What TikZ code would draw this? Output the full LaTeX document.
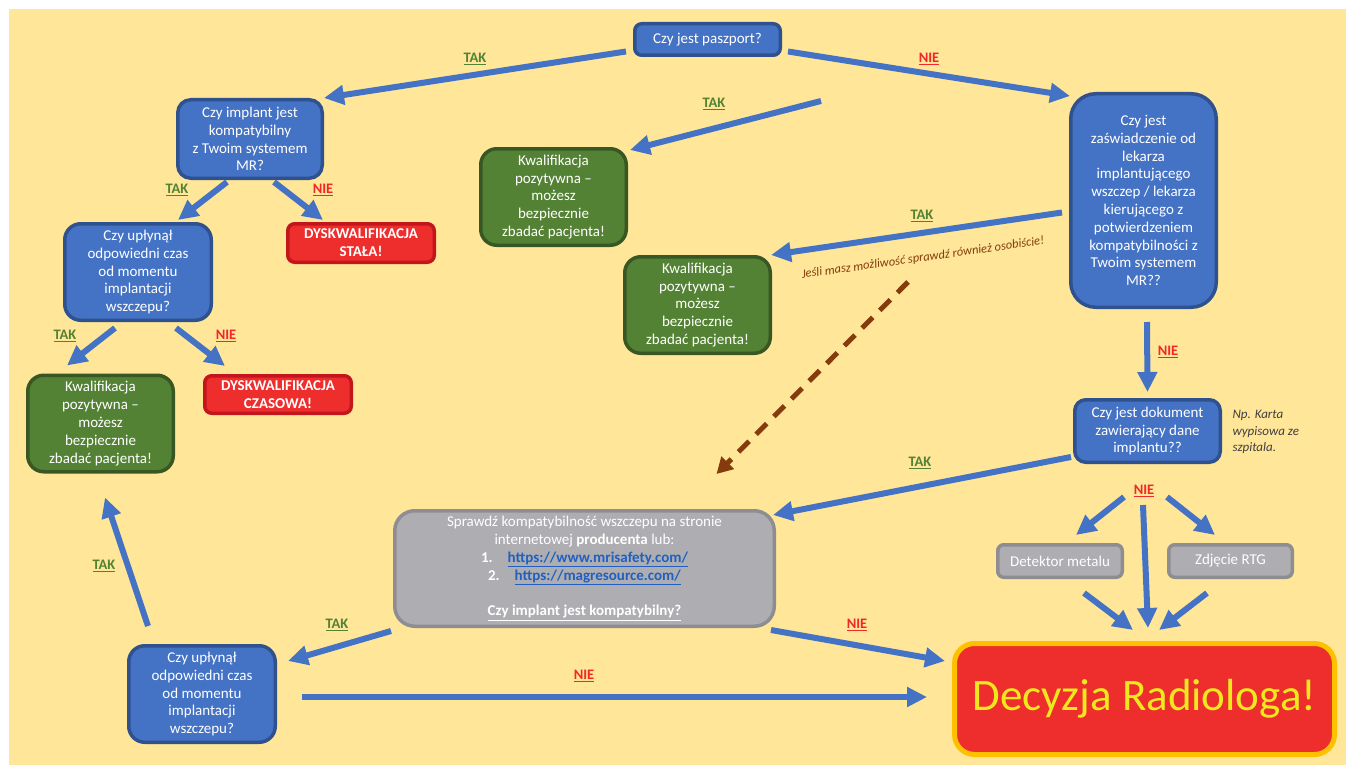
\documentclass[tikz,border=0pt]{standalone}
\usepackage{fontspec}
\setmainfont{Carlito}
\usetikzlibrary{arrows.meta,calc}
\definecolor{tlo}{HTML}{FFE699}
\definecolor{nieb}{HTML}{4472C4}
\definecolor{niebR}{HTML}{2F528F}
\definecolor{ziel}{HTML}{548235}
\definecolor{zielR}{HTML}{385723}
\definecolor{czer}{HTML}{EE2D2D}
\definecolor{czerR}{HTML}{C3161C}
\definecolor{szar}{HTML}{AEAEB2}
\definecolor{szarR}{HTML}{8E8E92}
\definecolor{obwod}{HTML}{FFC000}
\definecolor{napis}{HTML}{F0E81E}
\definecolor{braz}{HTML}{843C0C}
\definecolor{link}{HTML}{1F60C0}
\definecolor{takc}{HTML}{548235}
\definecolor{niec}{HTML}{F02828}
\begin{document}
\begin{tikzpicture}[x=1pt, y=-1pt,
	box/.style={draw, line width=3.5pt, align=center, text=white, inner sep=2pt, font=\fontsize{15}{17.8}\selectfont},
	pyt/.style={box, fill=nieb, draw=niebR},
	ok/.style={box, fill=ziel, draw=zielR, minimum width=145.5pt, minimum height=96.5pt, rounded corners=16pt},
	stop/.style={box, fill=czer, draw=czerR, minimum width=146.5pt, rounded corners=7pt, font=\fontsize{15}{17.8}\selectfont\bfseries},
	info/.style={box, fill=szar, draw=szarR},
	tak/.style={text=takc, font=\fontsize{14.5}{17}\selectfont\bfseries},
	nie/.style={text=niec, font=\fontsize{14.5}{17}\selectfont\bfseries},
	arr/.style={nieb, line width=6pt, -{Triangle[length=20pt,width=19pt]}}]
	\fill[white] (0, 0) rectangle (1346, 765);
	\fill[tlo] (9, 9) rectangle (1346, 765);
	\useasboundingbox (0, 0) rectangle (1346, 765);

	\node[pyt, minimum width=145.5pt, minimum height=31.5pt, rounded corners=7pt] at (707.5, 39.5) (P) {Czy jest paszport?};
	\node[pyt, minimum width=144.5pt, minimum height=78.5pt, rounded corners=13pt] at (250, 139) (I) {Czy implant jest\\kompatybilny\\z Twoim systemem\\MR?};
	\node[pyt, minimum width=146.5pt, minimum height=96.5pt, rounded corners=16pt] at (138, 272) (U1) {Czy upłynął\\odpowiedni czas\\od momentu\\implantacji\\wszczepu?};
	\node[stop, minimum height=38.5pt] at (361, 243) (DS) {DYSKWALIFIKACJA\\STAŁA!};
	\node[ok] at (100.5, 423.5) (K1) {Kwalifikacja\\pozytywna –\\możesz\\bezpiecznie\\zbadać pacjenta!};
	\node[stop, minimum height=37.5pt] at (278, 394.5) (DC) {DYSKWALIFIKACJA\\CZASOWA!};
	\node[ok] at (553.5, 197) (K2) {Kwalifikacja\\pozytywna –\\możesz\\bezpiecznie\\zbadać pacjenta!};
	\node[ok] at (697.5, 305) (K3) {Kwalifikacja\\pozytywna –\\możesz\\bezpiecznie\\zbadać pacjenta!};
	\node[pyt, minimum width=145.5pt, minimum height=213.5pt, rounded corners=25pt] at (1143.5, 200.5) (Z) {Czy jest\\zaświadczenie od\\lekarza\\implantującego\\wszczep / lekarza\\kierującego z\\potwierdzeniem\\kompatybilności z\\Twoim systemem\\MR??};
	\node[pyt, minimum width=145.5pt, minimum height=62.5pt, rounded corners=11pt] at (1147.5, 431) (D) {Czy jest dokument\\zawierający dane\\implantu??};
	\node[info, minimum width=124.5pt, minimum height=32.5pt, rounded corners=6pt] at (1060, 561) (DM) {Detektor metalu};
	\node[info, minimum width=123.5pt, minimum height=32.5pt, rounded corners=6pt] at (1230.5, 561) (DR) {Zdjęcie RTG};
	\node[info, minimum width=379.5pt, minimum height=115.5pt, rounded corners=20pt] at (584.5, 568.5) (S) {Sprawdź kompatybilność wszczepu na stronie\\internetowej \textbf{producenta} lub:\\\textbf{1.}\hspace{15pt}\textcolor{link}{\textbf{\underline{https://www.mrisafety.com/}}}\\\textbf{2.}\hspace{15pt}\textcolor{link}{\textbf{\underline{https://magresource.com/}}}\\\mbox{}\\\textbf{\underline{Czy implant jest kompatybilny?}}};
	\node[pyt, minimum width=146.5pt, minimum height=96.5pt, rounded corners=16pt] at (202, 694) (U2) {Czy upłynął\\odpowiedni czas\\od momentu\\implantacji\\wszczepu?};
	\node[draw=obwod, fill=czer, line width=5pt, minimum width=380pt, minimum height=111pt, rounded corners=20pt, text=napis, font=\fontsize{45}{50}\selectfont] at (1144.5, 699) (R) {Decyzja Radiologa!};

	\node[anchor=west, align=left, text=black!75, font=\fontsize{13}{16.7}\selectfont\itshape] at (1229, 432) (NP) {Np. Karta\\wypisowa ze\\szpitala.};
	\node[rotate=8, text=braz, font=\fontsize{12.5}{15}\selectfont\itshape] at (923, 258) (UW) {Jeśli masz możliwość sprawdź również osobiście!};
	\coordinate (T2s) at (821, 101);

	\node[tak] at (475, 59) (T1) {\underline{TAK}};
	\node[nie] at (929, 59) (N1) {\underline{NIE}};
	\node[tak] at (714, 104) (T2) {\underline{TAK}};
	\node[tak] at (922, 216) (T3) {\underline{TAK}};
	\node[nie] at (1168, 352) (N2) {\underline{NIE}};
	\node[tak] at (920, 463) (T4) {\underline{TAK}};
	\node[nie] at (1144, 491) (N3) {\underline{NIE}};
	\node[tak] at (337, 625) (T5) {\underline{TAK}};
	\node[nie] at (857, 625) (N4) {\underline{NIE}};
	\node[nie] at (584, 676) (N5) {\underline{NIE}};
	\node[tak] at (104, 566) (T6) {\underline{TAK}};
	\node[tak] at (177, 190) (T7) {\underline{TAK}};
	\node[nie] at (323, 190) (N6) {\underline{NIE}};
	\node[tak] at (65, 336) (T8) {\underline{TAK}};
	\node[nie] at (226, 336) (N7) {\underline{NIE}};

	\draw [arr] ($(P.west)+(-7,12)$) -- (I.north east);
	\draw [arr] ($(P.east)+(6,12)$) -- ($(Z.north west)+(1,4)$);
	\draw [arr] (T2s) -- ($(K2.north east)+(2,3)$);
	\draw [arr] ($(Z.west)+(-7,12)$) -- ($(K3.north east)+(-1,0)$);
	\draw [braz, line width=5pt, dash pattern=on 15pt off 10pt, -{Triangle[length=16pt,width=17pt]}] ($(UW.center)+(-15,24)$) -- ($(S.north)+(132,-35)$);
	\draw [arr] ($(Z.south)+(3.5,13)$) -- ($(D.north)+(0,-6)$);
	\draw [arr] ($(D.south west)+(-2,-7)$) -- ($(S.north east)+(-3,6)$);
	\draw [arr] ($(D.south)+(-23.5,33)$) -- ($(DM.north)+(16,-8)$);
	\draw [arr] ($(D.south)+(19.5,33)$) -- ($(DR.north)+(-15.5,-8)$);
	\draw [arr] ($(D.south)+(-4.5,41)$) -- ($(R.north)+(3.5,-13)$);
	\draw [arr] ($(DM.south)+(24,14)$) -- ($(R.north)+(-11.5,-11)$);
	\draw [arr] ($(DR.south)+(-23.5,14)$) -- ($(R.north)+(14.5,-11)$);
	\draw [arr] ($(S.south west)+(-2,3)$) -- ($(U2.north east)+(11,17)$);
	\draw [arr] ($(S.south east)+(-5,2)$) -- ($(R.west)+(-7,-38)$);
	\draw [arr] ($(U2.east)+(25,3)$) -- ($(R.west)+(-25,-2)$);
	\draw [arr] ($(U2.north west)+(21,-18)$) -- ($(K1.south)+(4.5,24)$);
	\draw [arr] ($(I.south)+(-23,2)$) -- ($(U1.north)+(40,-2)$);
	\draw [arr] ($(I.south)+(24,2)$) -- ($(DS.north)+(-38,-2)$);
	\draw [arr] ($(U1.south)+(-23,6)$) -- ($(K1.north)+(-33.5,-8)$);
	\draw [arr] ($(U1.south)+(38,6)$) -- ($(DC.north)+(-53,-8)$);
\end{tikzpicture}
\end{document}
